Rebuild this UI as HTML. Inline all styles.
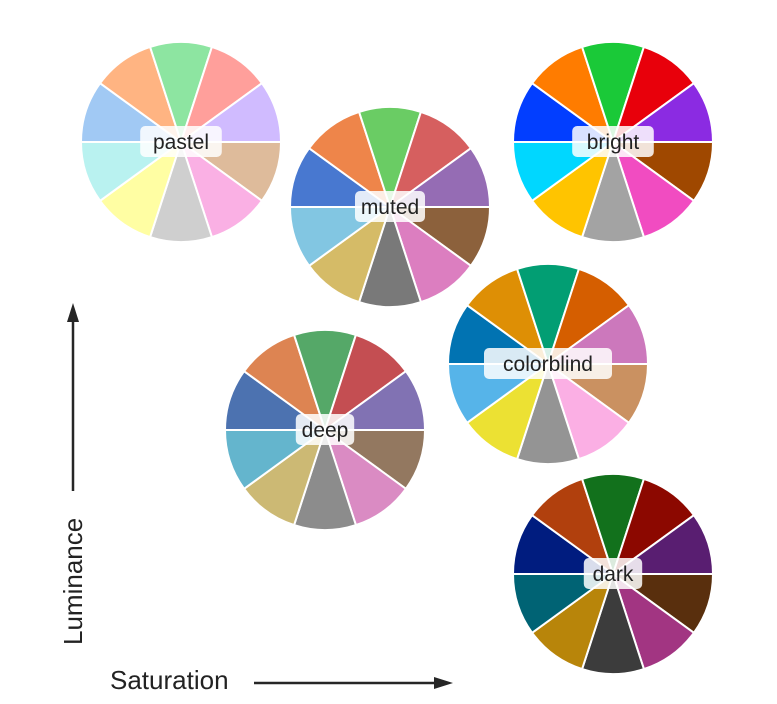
<!DOCTYPE html>
<html><head><meta charset="utf-8"><style>
html,body{margin:0;padding:0;background:#fff;}
svg{display:block;font-family:"Liberation Sans",Arial,sans-serif;}
</style></head><body>
<svg id="chart" width="777" height="704" viewBox="0 0 777 704">
<g id="wheels"></g>
<g>
<text x="110" y="689" font-size="26" fill="#222">Saturation</text>
<line x1="254" y1="683" x2="436" y2="683" stroke="#262626" stroke-width="2.5"/>
<polygon points="453,683 434,677 434,689" fill="#262626"/>
</g>
<g>
<text transform="translate(82,645) rotate(-90)" font-size="26" fill="#222">Luminance</text>
<line x1="73" y1="491" x2="73" y2="320" stroke="#262626" stroke-width="2.5"/>
<polygon points="73,303 67,322 79,322" fill="#262626"/>
</g>
</svg>
<script>
const paletteNames = ["pastel","muted","bright","colorblind","deep","dark"];
const centerX = [181,390,613,548,325,613];
const centerY = [142,207,142,364,430,574];
const pastelColors = ["#A1C9F4","#FFB482","#8DE5A1","#FF9F9B","#D0BBFF","#DEBB9B","#FAB0E4","#CFCFCF","#FFFEA3","#B9F2F0"];
const mutedColors = ["#4878D0","#EE854A","#6ACC64","#D65F5F","#956CB4","#8C613C","#DC7EC0","#797979","#D5BB67","#82C6E2"];
const brightColors = ["#023EFF","#FF7C00","#1AC938","#E8000B","#8B2BE2","#9F4800","#F14CC1","#A3A3A3","#FFC400","#00D7FF"];
const colorblindColors = ["#0173B2","#DE8F05","#029E73","#D55E00","#CC78BC","#CA9161","#FBAFE4","#949494","#ECE133","#56B4E9"];
const deepColors = ["#4C72B0","#DD8452","#55A868","#C44E52","#8172B3","#937860","#DA8BC3","#8C8C8C","#CCB974","#64B5CD"];
const darkColors = ["#001C7F","#B1400D","#12711C","#8C0800","#591E71","#592F0D","#A23582","#3C3C3C","#B8850A","#006374"];
const paletteColors = [pastelColors,mutedColors,brightColors,colorblindColors,deepColors,darkColors];

const NS="http://www.w3.org/2000/svg";
const R=100;
const g=document.getElementById('wheels');
function pt(cx,cy,deg){const a=deg*Math.PI/180;return [cx+R*Math.cos(a),cy-R*Math.sin(a)];}
paletteNames.forEach((name,p)=>{
  const cx=centerX[p], cy=centerY[p], cols=paletteColors[p];
  const wg=document.createElementNS(NS,'g');
  
  
  const n=cols.length, step=360/n;
  cols.forEach((c,i)=>{
    const mid=162-step*i;
    const [x1,y1]=pt(cx,cy,mid+step/2), [x2,y2]=pt(cx,cy,mid-step/2);
    const path=document.createElementNS(NS,'path');
    path.setAttribute('d',`M${cx},${cy} L${x1},${y1} A${R},${R} 0 0 1 ${x2},${y2} Z`);
    path.setAttribute('fill',c);
    path.setAttribute('stroke','#fff');
    path.setAttribute('stroke-width','2');
    path.setAttribute('stroke-linejoin','round');
    
    
    wg.appendChild(path);
  });
  const w=name.length*11.6+12;
  const rect=document.createElementNS(NS,'rect');
  rect.setAttribute('x',cx-w/2);rect.setAttribute('y',cy-16);
  rect.setAttribute('width',w);rect.setAttribute('height',31);
  rect.setAttribute('rx',5);rect.setAttribute('fill','rgba(255,255,255,0.85)');
  
  
  wg.appendChild(rect);
  const t=document.createElementNS(NS,'text');
  t.setAttribute('x',cx);t.setAttribute('y',cy+7);
  t.setAttribute('text-anchor','middle');t.setAttribute('font-size','21');
  t.setAttribute('fill','#222');
  t.textContent=name;
  
  
  wg.appendChild(t);
  g.appendChild(wg);
});
</script>
</body></html>
